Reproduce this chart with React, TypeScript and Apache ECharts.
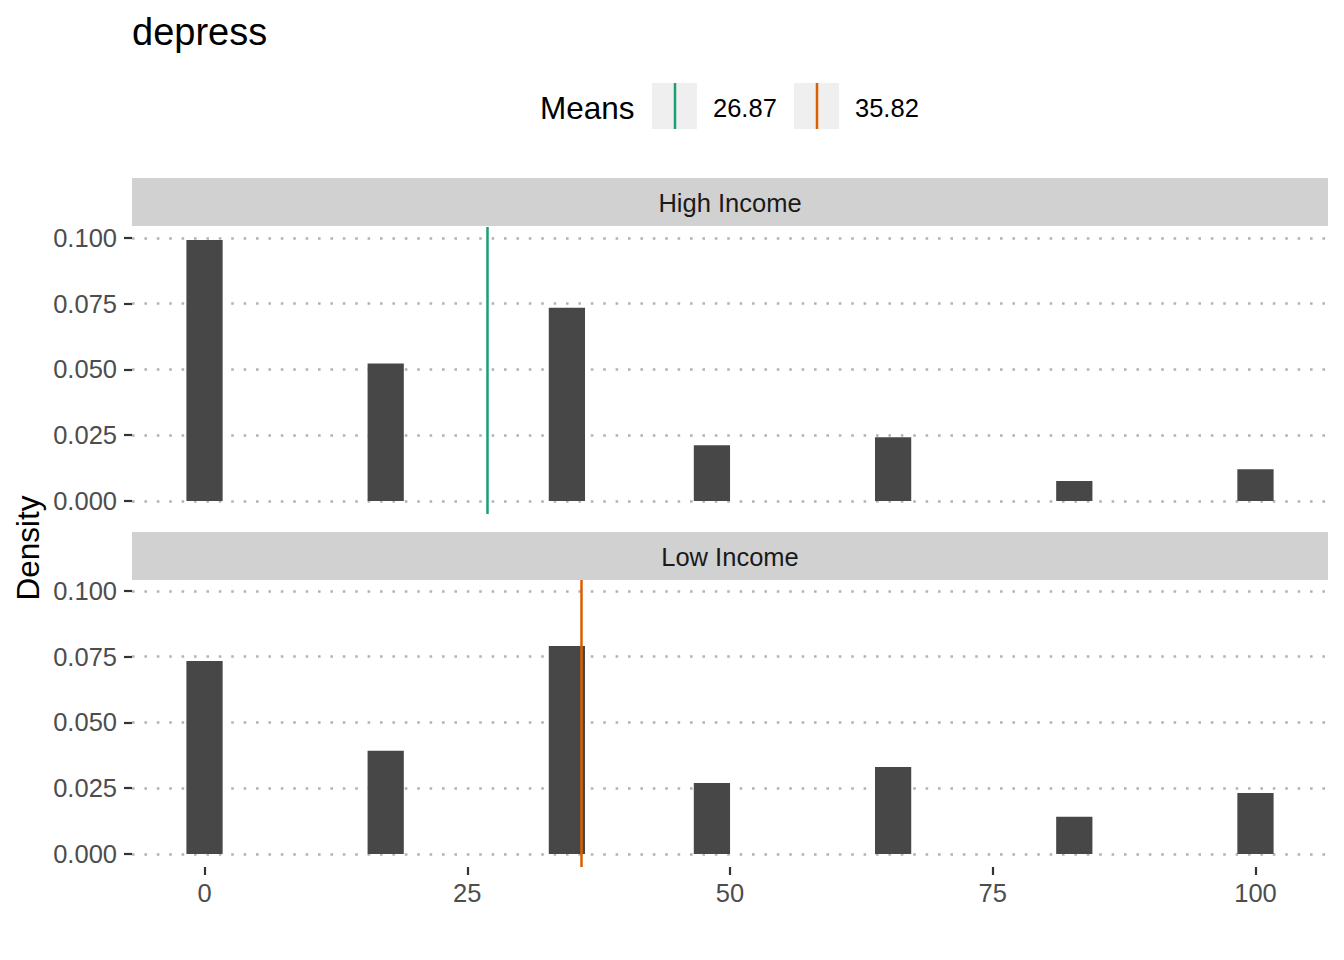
import React, { useEffect, useRef } from "react";
import * as echarts from "echarts";

const binWidth = 100 / 29;
const binCenters = [0, 17.24, 34.48, 48.28, 65.52, 82.76, 100];
const highDensity = [0.0992, 0.0523, 0.0735, 0.0212, 0.0242, 0.0076, 0.0121];
const lowDensity = [0.0734, 0.0392, 0.0791, 0.027, 0.0331, 0.0141, 0.0232];
const panels = ["High Income", "Low Income"];
const meanValues = [26.87, 35.82];
const meanLabels = ["26.87", "35.82"];
const meanColors = ["#1b9e77", "#d95f02"];
const xTicks = [0, 25, 50, 75, 100];
const yTicks = [0, 0.025, 0.05, 0.075, 0.1];
const chartTitle = "depress";
const yTitle = "Density";
const legendTitle = "Means";

const FONT = "'Liberation Sans', Arial, Helvetica, sans-serif";
const SMALL = 25.5;
const MID = 31.5;

export default function App() {
  const ref = useRef<HTMLDivElement>(null);
  useEffect(() => {
    if (!ref.current) return;
    const chart = echarts.init(ref.current, null, { renderer: "svg" });

    const toRects = (dens: number[]) =>
      binCenters.map((c, i) => [c - binWidth / 2, c + binWidth / 2, dens[i]]);

    const renderItem = (params: any, api: any) => {
      const x0 = api.value(0);
      const x1 = api.value(1);
      const y = api.value(2);
      const p0 = api.coord([x0, y]);
      const p1 = api.coord([x1, 0]);
      return {
        type: "rect",
        shape: { x: p0[0], y: p0[1], width: p1[0] - p0[0], height: p1[1] - p0[1] },
        style: { fill: "#474747" },
      };
    };

    const gridLeft = 132;
    const gridRight = 16;
    const tops = [227, 580];
    const panelH = 287;
    const stripTops = [178, 532];
    const stripH = 48;
    const panelW = 1344 - gridLeft - gridRight;

    const yAxisCommon = (idx: number) => ({
      type: "value",
      gridIndex: idx,
      min: -0.00496,
      max: 0.10416,
      axisLine: { show: false, onZero: false },
      axisTick: {
        show: true,
        length: 8,
        customValues: yTicks,
        lineStyle: { color: "#333333", width: 2.2 },
      },
      axisLabel: {
        customValues: yTicks,
        margin: 15,
        color: "#4d4d4d",
        fontSize: SMALL,
        fontFamily: FONT,
        formatter: (v: number) => v.toFixed(3),
      },
      splitLine: {
        show: true,
        lineStyle: { color: "#b3b3b3", width: 2.6, type: [2.6, 9.8] },
      },
    });

    const xAxisCommon = (idx: number, showLabels: boolean) => ({
      type: "value",
      gridIndex: idx,
      min: -6.9,
      max: 106.9,
      axisLine: { show: false, onZero: false },
      splitLine: { show: false },
      axisTick: {
        show: showLabels,
        length: 8,
        customValues: xTicks,
        lineStyle: { color: "#333333", width: 2.2 },
      },
      axisLabel: {
        show: showLabels,
        customValues: xTicks,
        margin: 13,
        color: "#4d4d4d",
        fontSize: SMALL,
        fontFamily: FONT,
      },
    });

    const graphics: any[] = [
      {
        type: "text",
        x: 132,
        y: 32,
        style: {
          text: chartTitle,
          fontSize: 38,
          fontFamily: FONT,
          fill: "#000000",
          align: "left",
          verticalAlign: "middle",
        },
      },
      {
        type: "text",
        x: 28,
        y: 548,
        rotation: Math.PI / 2,
        style: {
          text: yTitle,
          fontSize: MID,
          fontFamily: FONT,
          fill: "#000000",
          align: "center",
          verticalAlign: "middle",
        },
      },
      {
        type: "text",
        x: 540,
        y: 108,
        style: {
          text: legendTitle,
          fontSize: MID,
          fontFamily: FONT,
          fill: "#000000",
          align: "left",
          verticalAlign: "middle",
        },
      },
    ];

    const keyX = [652, 794];
    meanLabels.forEach((lab, i) => {
      graphics.push({
        type: "rect",
        shape: { x: keyX[i], y: 83, width: 45, height: 46 },
        style: { fill: "#efefef" },
      });
      graphics.push({
        type: "line",
        shape: { x1: keyX[i] + 23, y1: 83, x2: keyX[i] + 23, y2: 129 },
        style: { stroke: meanColors[i], lineWidth: 2.5 },
      });
      graphics.push({
        type: "text",
        x: keyX[i] + 61,
        y: 108,
        style: {
          text: lab,
          fontSize: SMALL,
          fontFamily: FONT,
          fill: "#000000",
          align: "left",
          verticalAlign: "middle",
        },
      });
    });

    panels.forEach((p, i) => {
      graphics.push({
        type: "rect",
        shape: { x: gridLeft, y: stripTops[i], width: panelW, height: stripH },
        style: { fill: "#d1d1d1" },
      });
      graphics.push({
        type: "text",
        x: gridLeft + panelW / 2,
        y: stripTops[i] + stripH / 2 + 1,
        style: {
          text: p,
          fontSize: SMALL,
          fontFamily: FONT,
          fill: "#1a1a1a",
          align: "center",
          verticalAlign: "middle",
        },
      });
    });

    const dens = [highDensity, lowDensity];

    const option: any = {
      animation: false,
      backgroundColor: "#ffffff",
      grid: tops.map((t) => ({
        left: gridLeft,
        right: gridRight,
        top: t,
        height: panelH,
        containLabel: false,
      })),
      xAxis: [xAxisCommon(0, false), xAxisCommon(1, true)],
      yAxis: [yAxisCommon(0), yAxisCommon(1)],
      series: dens.map((d, i) => ({
        type: "custom",
        xAxisIndex: i,
        yAxisIndex: i,
        z: 2,
        renderItem,
        encode: { x: [0, 1], y: 2 },
        data: toRects(d),
        markLine: {
          silent: true,
          symbol: "none",
          z: 5,
          label: { show: false },
          lineStyle: { color: meanColors[i], width: 2.5, type: "solid" },
          data: [{ xAxis: meanValues[i] }],
        },
      })),
      graphic: graphics,
    };

    chart.setOption(option);
    return () => chart.dispose();
  }, []);

  return (
    <div
      ref={ref}
      style={{ position: "fixed", left: 0, top: 0, width: 1344, height: 960 }}
    />
  );
}
